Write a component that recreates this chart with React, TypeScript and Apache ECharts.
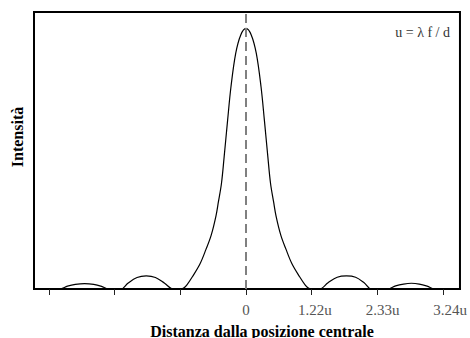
import React, { useEffect, useRef } from "react";
import * as echarts from "echarts";

// Distance from the centre, in units of the minima spacing (1 ≙ 1.22u, 2 ≙ 2.33u, 3 ≙ 3.24u)
const distance = [
  -3.23, -2.84, -2.72, -2.6, -2.46, -2.32, -2.2, -2.1, -1.9, -1.8, -1.66, -1.52, -1.38, -1.24, -1.11,
  -1.0, -0.95, -0.9, -0.817, -0.7, -0.61, -0.53, -0.458, -0.42, -0.374, -0.333, -0.28, -0.229, -0.157, -0.08,
  0,
  0.08, 0.157, 0.229, 0.28, 0.333, 0.374, 0.42, 0.458, 0.53, 0.61, 0.7, 0.817, 0.9, 0.95, 1.0,
  1.12, 1.25, 1.39, 1.53, 1.67, 1.8, 1.91, 2.16, 2.28, 2.4, 2.52, 2.64, 2.76, 2.88, 3.26,
];
// Relative intensity
const intensity = [
  0, 0, 0.011, 0.018, 0.021, 0.018, 0.01, 0, 0, 0.022, 0.044, 0.05, 0.044, 0.022, 0,
  0, 0.004, 0.016, 0.047, 0.097, 0.152, 0.207, 0.28, 0.335, 0.405, 0.507, 0.648, 0.776, 0.904, 0.975,
  1,
  0.975, 0.904, 0.776, 0.648, 0.507, 0.405, 0.335, 0.28, 0.207, 0.152, 0.097, 0.047, 0.016, 0.004, 0,
  0, 0.024, 0.045, 0.05, 0.045, 0.024, 0, 0, 0.012, 0.019, 0.022, 0.019, 0.011, 0, 0,
];

const tickValues = [-3, -2, -1, 0, 1, 2, 3];
const tickLabelPositions = [0, 1.05, 2.08, 3.11];
const tickLabels = ["0", "1.22u", "2.33u", "3.24u"];

const xTitle = "Distanza dalla posizione centrale";
const yTitle = "Intensità";
const note = "u = λ f / d";

const SERIF = "Liberation Serif";

export default function App() {
  const ref = useRef<HTMLDivElement>(null);

  useEffect(() => {
    if (!ref.current) return;
    const chart = echarts.init(ref.current, undefined, { renderer: "svg" });
    const data = distance.map((d, i) => [d, intensity[i]]);
    chart.setOption({
      animation: false,
      backgroundColor: "#ffffff",
      textStyle: { fontFamily: SERIF },
      grid: {
        left: 34,
        right: 10,
        top: 12,
        bottom: 49,
        show: true,
        borderColor: "#000",
        borderWidth: 2,
        backgroundColor: "transparent",
      },
      xAxis: {
        type: "value",
        min: -3.23,
        max: 3.26,
        splitLine: { show: false },
        axisLine: { show: true, onZero: false, lineStyle: { color: "#000", width: 2 } },
        axisTick: {
          show: true,
          customValues: tickValues,
          length: 6,
          lineStyle: { color: "#222", width: 1 },
        },
        axisLabel: {
          show: true,
          customValues: tickLabelPositions,
          formatter: (v: number) => {
            const i = tickLabelPositions.indexOf(v);
            return i >= 0 ? tickLabels[i] : "";
          },
          margin: 13,
          color: "#555",
          fontFamily: SERIF,
          fontSize: 15,
        },
      },
      yAxis: {
        type: "value",
        min: 0,
        max: 1.063,
        splitLine: { show: false },
        axisLine: { show: false },
        axisTick: { show: false },
        axisLabel: { show: false },
      },
      graphic: [
        {
          type: "text",
          x: 262,
          y: 331,
          style: {
            text: xTitle,
            font: "bold 16px " + SERIF,
            fontFamily: SERIF,
            fontSize: 16,
            fontWeight: "bold",
            fill: "#000",
            align: "center",
            verticalAlign: "middle",
          },
        },
        {
          type: "text",
          x: 17,
          y: 137,
          rotation: Math.PI / 2,
          style: {
            text: yTitle,
            fontFamily: SERIF,
            fontSize: 16,
            fontWeight: "bold",
            fill: "#000",
            align: "center",
            verticalAlign: "middle",
          },
        },
        {
          type: "text",
          x: 450,
          y: 32,
          style: {
            text: note,
            fontFamily: SERIF,
            fontSize: 14,
            fill: "#333",
            align: "right",
            verticalAlign: "middle",
          },
        },
      ],
      series: [
        {
          type: "line",
          data,
          smooth: 0.35,
          showSymbol: false,
          symbol: "none",
          lineStyle: { color: "#000", width: 1.2 },
          clip: true,
          markLine: {
            silent: true,
            symbol: "none",
            label: { show: false },
            lineStyle: { color: "#808080", width: 2, type: [9, 5] },
            data: [{ xAxis: 0 }],
          },
          z: 3,
        },
      ],
    });
    return () => chart.dispose();
  }, []);

  return <div ref={ref} style={{ width: 470, height: 338, position: "absolute", left: 0, top: 0 }} />;
}
